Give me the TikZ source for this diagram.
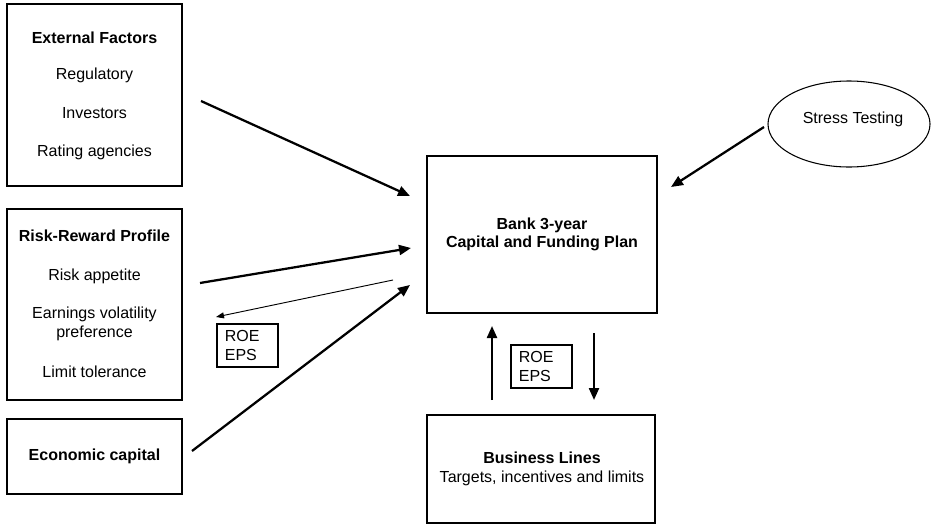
\documentclass[tikz,border=0pt]{standalone}
\usepackage{fontspec}
\setmainfont{Liberation Sans}
\usetikzlibrary{arrows.meta,shapes.geometric}
\begin{document}
\begin{tikzpicture}[x=0.75pt,y=-0.75pt,
 box/.style={draw, line width=0.8pt, inner sep=0pt},
 bigarrow/.style={line width=1.7pt, -{Triangle[length=9pt,width=7.5pt]}},
 thinarrow/.style={line width=0.7pt, -{Triangle[length=6pt,width=4.5pt]}},
 lbl/.style={font=\fontsize{12pt}{14.25pt}\selectfont, align=center, inner sep=0pt},
 blbl/.style={lbl, font=\fontsize{12pt}{13.5pt}\selectfont\bfseries},
 roe/.style={box, minimum width=45.75pt, minimum height=32.25pt, align=left,
   font=\fontsize{12pt}{14.25pt}\selectfont, text width=34pt}]
\useasboundingbox (0,0) rectangle (931,525);

% boxes
\node[box, minimum width=131.25pt, minimum height=136.5pt] (ext) at (94.5,95) {};
\node[box, minimum width=131.25pt, minimum height=143.25pt] (risk) at (94.5,304.5) {};
\node[box, minimum width=131.25pt, minimum height=56.25pt] (econ) at (94.5,456.5) {};
\node[box, minimum width=172.5pt, minimum height=117.75pt] (plan) at (542,234.5) {};
\node[box, minimum width=171pt, minimum height=81pt] (biz) at (541,469) {};
\node[draw, line width=0.8pt, ellipse, minimum width=121.5pt, minimum height=64.5pt, inner sep=0pt] (stress) at (849,124) {};

% texts
\node[blbl] (extT) at (94.5,38) {External Factors};
\node[lbl] (reg) at (94.5,75) {Regulatory};
\node[lbl] (inv) at (94.5,113) {Investors};
\node[lbl] (rat) at (94.5,152) {Rating agencies};
\node[blbl] (riskT) at (94.5,236) {Risk-Reward Profile};
\node[lbl] (app) at (94.5,276) {Risk appetite};
\node[lbl] (vol) at (94.5,323.5) {Earnings volatility\\preference};
\node[lbl] (lim) at (94.5,372) {Limit tolerance};
\node[blbl] (econT) at (94.5,456) {Economic capital};
\node[blbl] (planT) at (542,234) {Bank 3-year\\Capital and Funding Plan};
\node[lbl] (bizT) at (542,469) {\textbf{Business Lines}\\Targets, incentives and limits};
\node[lbl] (stressT) at (853,119) {Stress Testing};

\node[roe] (roe1) at (247.5,345.5) {ROE\\EPS};
\node[roe] (roe2) at (541.5,366.5) {ROE\\EPS};

% connector end points
\coordinate (a1s) at (201,101); \coordinate (a1e) at (410,196);
\coordinate (a2s) at (200,283); \coordinate (a2e) at (411,248);
\coordinate (rs) at (393,280);  \coordinate (re) at (216,317);
\coordinate (a3s) at (192,451); \coordinate (a3e) at (410,285);
\coordinate (ss) at (764,127);  \coordinate (se) at (671,187);
\coordinate (us) at (492,400);  \coordinate (ue) at (492,326);
\coordinate (ds) at (594,333);  \coordinate (de) at (594,400);

\draw[bigarrow] (a1s) -- (a1e);
\draw[bigarrow] (a2s) -- (a2e);
\draw[thinarrow] (rs) -- (re);
\draw[bigarrow] (a3s) -- (a3e);
\draw[bigarrow] (ss) -- (se);
\draw[bigarrow] (us) -- (ue);
\draw[bigarrow] (ds) -- (de);
\end{tikzpicture}
\end{document}
